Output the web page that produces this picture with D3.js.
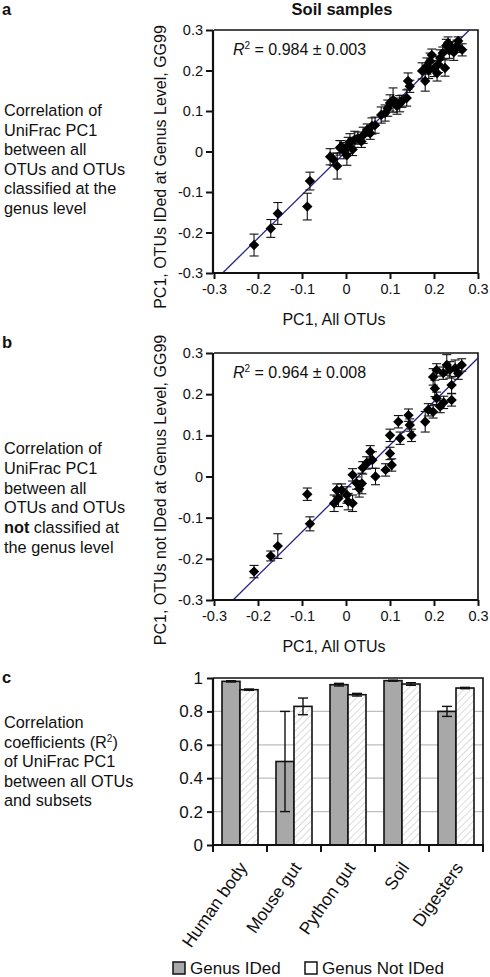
<!DOCTYPE html>
<html><head><meta charset="utf-8">
<script src="https://cdn.jsdelivr.net/npm/d3@7/dist/d3.min.js"></script>
<style>
html,body{margin:0;padding:0;background:#fff;}
text{font-family:"Liberation Sans",Arial,sans-serif;fill:#111;}
</style></head>
<body><svg id="c" width="490" height="977"></svg>
<script>
// ---------- data ----------
const scatterTicks = [-0.3,-0.2,-0.1,0,0.1,0.2,0.3];
const barTicks = [0,0.2,0.4,0.6,0.8,1];

// panel a: PC1 all OTUs (x), PC1 OTUs IDed at genus level (y), error
const aX = [-0.209,-0.171,-0.155,-0.082,-0.088,-0.020,-0.029,-0.011,0.002,0.009,-0.036,-0.014,-0.005,0.005,0.015,0.020,0.027,0.035,0.039,0.048,0.055,0.059,0.066,0.080,0.089,0.095,0.100,0.107,0.116,0.122,0.127,0.138,0.141,0.145,0.173,0.180,0.184,0.191,0.195,0.200,0.207,0.214,0.220,0.225,0.232,0.241,0.252,0.255,0.264,0.245,0.235,0.228,0.210,0.188];
const aY = [-0.231,-0.190,-0.153,-0.073,-0.136,-0.036,-0.019,0.012,-0.009,0.024,-0.013,0.009,0.002,0.015,0.005,0.030,0.033,0.025,0.040,0.053,0.045,0.063,0.065,0.090,0.095,0.107,0.120,0.127,0.112,0.118,0.124,0.132,0.174,0.161,0.199,0.174,0.211,0.223,0.238,0.205,0.194,0.231,0.243,0.206,0.268,0.256,0.260,0.273,0.251,0.245,0.250,0.262,0.215,0.200];
const aErr = [0.027,0.022,0.027,0.022,0.033,0.032,0.015,0.015,0.025,0.020,0.020,0.018,0.020,0.020,0.015,0.020,0.015,0.015,0.020,0.015,0.015,0.020,0.020,0.020,0.020,0.020,0.020,0.030,0.020,0.020,0.015,0.020,0.020,0.015,0.020,0.025,0.020,0.020,0.015,0.020,0.020,0.020,0.015,0.020,0.015,0.015,0.015,0.010,0.015,0.020,0.020,0.015,0.020,0.020];

// panel b: PC1 all OTUs (x), PC1 OTUs not IDed at genus level (y), error
const bX = [-0.209,-0.171,-0.155,-0.082,-0.088,-0.027,-0.017,-0.021,-0.010,0.002,0.005,0.015,0.015,0.024,0.036,0.038,0.047,0.055,0.067,0.090,0.104,0.100,0.100,0.123,0.119,0.142,0.149,0.145,0.180,0.187,0.198,0.214,0.206,0.222,0.240,0.202,0.198,0.206,0.229,0.236,0.248,0.255,0.263,0.221,0.240,0.060,0.030];
const bY = [-0.231,-0.193,-0.169,-0.115,-0.043,-0.065,-0.053,-0.033,-0.033,-0.045,-0.061,-0.065,0.004,-0.016,-0.017,0.021,0.033,0.060,0.000,0.016,0.028,0.056,0.100,0.093,0.133,0.149,0.100,0.125,0.133,0.162,0.157,0.170,0.190,0.180,0.186,0.214,0.242,0.259,0.271,0.259,0.263,0.251,0.271,0.251,0.222,0.040,-0.030];
const bErr = [0.015,0.012,0.030,0.017,0.015,0.020,0.020,0.015,0.015,0.020,0.020,0.020,0.015,0.015,0.025,0.015,0.015,0.015,0.020,0.015,0.015,0.015,0.015,0.015,0.015,0.015,0.015,0.015,0.025,0.015,0.015,0.015,0.015,0.015,0.015,0.020,0.020,0.015,0.025,0.020,0.020,0.015,0.015,0.015,0.020,0.020,0.020];

const fitA = [1.07, 0.0];     // slope, intercept
const fitB = [1.056, -0.029];

// panel c
const categories = ["Human body","Mouse gut","Python gut","Soil","Digesters"];
const seriesNames = ["Genus IDed","Genus Not IDed"];
const genusIDed = [0.98,0.50,0.96,0.984,0.80];
const genusIDedErr = [0.004,0.30,0.008,0.003,0.03];
const genusNotIDed = [0.93,0.83,0.90,0.964,0.94];
const genusNotIDedErr = [0.004,0.05,0.008,0.008,0.004];

// ---------- drawing ----------
const svg = d3.select("#c");
const defs = svg.append("defs");
const pat = defs.append("pattern").attr("id","hatch").attr("patternUnits","userSpaceOnUse")
  .attr("width",5).attr("height",5).attr("patternTransform","rotate(45)");
pat.append("rect").attr("width",5).attr("height",5).attr("fill","#fff");
pat.append("line").attr("x1",0).attr("y1",0).attr("x2",0).attr("y2",5)
  .attr("stroke","#c4c4c4").attr("stroke-width",1.2);

const FONT = '"Liberation Sans",Arial,sans-serif';
const fmt = d => d === 0 ? "0" : (d < 0 ? "-" : "") + d3.format(".1f")(Math.abs(d));
const fmtBar = d => d === 0 ? "0" : (d === 1 ? "1" : d3.format(".1f")(d));

// title
svg.append("text").attr("x",342).attr("y",15).attr("text-anchor","middle")
  .attr("font-size",16.5).attr("font-weight","bold").text("Soil samples");

function panelLetter(t, y){
  svg.append("text").attr("x",2).attr("y",y).attr("font-size",16.5).attr("font-weight","bold").text(t);
}
function descLines(lines, y0, step){
  const t = svg.append("g");
  lines.forEach((ln,i)=>{
    const tx = t.append("text").attr("x",4).attr("y",y0+i*step).attr("font-size",16.3);
    ln.forEach(seg=>{
      const ts = tx.append("tspan").text(seg.t);
      if(seg.b) ts.attr("font-weight","bold");
      if(seg.sup) ts.attr("font-size",10).attr("dy",-6);
      if(seg.after) ts.attr("dy",6);
    });
  });
}

function scatter(yTop, yBot, xs, ys, errs, fit, r2, r2err, ytitle, titleCenter){
  const x = d3.scaleLinear().domain([-0.3,0.3]).range([214,478]);
  const y = d3.scaleLinear().domain([-0.3,0.3]).range([yBot,yTop]);
  const g = svg.append("g");
  g.append("path").attr("d",`M${x(-0.3)},${y(0.3)}H${x(0.3)}V${y(-0.3)}`)
    .attr("fill","none").attr("stroke","#111").attr("stroke-width",1.6);
  const [m,b] = fit;
  let x0 = -0.3, y0 = m*x0+b; if(y0 < -0.3){ y0=-0.3; x0=(y0-b)/m; }
  let x1 = 0.3, y1 = m*x1+b; if(y1 > 0.3){ y1=0.3; x1=(y1-b)/m; }
  g.append("line").attr("x1",x(x0)).attr("y1",y(y0)).attr("x2",x(x1)).attr("y2",y(y1))
    .attr("stroke","#22228a").attr("stroke-width",1.3);
  const pts = xs.map((v,i)=>({x:v,y:ys[i],e:errs[i]}));
  const eb = g.append("g").attr("stroke","#111").attr("stroke-width",1.1);
  pts.forEach(p=>{
    const cx=x(p.x), t=y(p.y+p.e), bt=y(p.y-p.e);
    eb.append("line").attr("x1",cx).attr("x2",cx).attr("y1",t).attr("y2",bt);
    eb.append("line").attr("x1",cx-4.5).attr("x2",cx+4.5).attr("y1",t).attr("y2",t);
    eb.append("line").attr("x1",cx-4.5).attr("x2",cx+4.5).attr("y1",bt).attr("y2",bt);
  });
  const sym = d3.symbol(d3.symbolSquare, 54);
  g.append("g").selectAll("path").data(pts).join("path")
    .attr("d",sym).attr("fill","#000")
    .attr("transform",p=>`translate(${x(p.x)},${y(p.y)}) rotate(45)`);
  const ax = g.append("g").attr("transform",`translate(0,${yBot})`)
    .call(d3.axisBottom(x).tickValues(scatterTicks).tickFormat(fmt).tickSize(6).tickSizeOuter(0).tickPadding(5));
  const ay = g.append("g").attr("transform",`translate(213,0)`)
    .call(d3.axisLeft(y).tickValues(scatterTicks).tickFormat(fmt).tickSize(7).tickSizeOuter(0).tickPadding(3));
  [ax,ay].forEach(a=>{
    a.select(".domain").attr("stroke","#111").attr("stroke-width",2.2);
    a.selectAll(".tick line").attr("stroke","#111").attr("stroke-width",2);
    a.selectAll(".tick text").attr("font-family",FONT).attr("font-size",14.5).attr("fill","#111");
  });
  ax.select(".domain").attr("d",`M213,0H${x(0.3)}`);
  ay.select(".domain").attr("d",`M0,${y(0.3)}V${yBot+1}`);
  const rt = g.append("text").attr("x",233).attr("y",yTop+25).attr("font-size",16);
  rt.append("tspan").attr("font-style","italic").text("R");
  rt.append("tspan").attr("font-size",10).attr("dy",-6).text("2");
  rt.append("tspan").attr("dy",6).text(` = ${r2} ± ${r2err}`);
  g.append("text").attr("x",334).attr("y",yBot+52).attr("text-anchor","middle")
    .attr("font-size",16).text("PC1, All OTUs");
  g.append("text").attr("transform",`translate(166,${titleCenter}) rotate(-90)`)
    .attr("text-anchor","middle").attr("font-size",16).text(ytitle);
}

panelLetter("a",15);
descLines([[{t:"Correlation of"}],[{t:"UniFrac PC1"}],[{t:"between all"}],[{t:"OTUs and OTUs"}],[{t:"classified at the"}],[{t:"genus level"}]],116,19.6);
scatter(30,273,aX,aY,aErr,fitA,"0.984","0.003","PC1, OTUs IDed at Genus Level, GG99",167);

panelLetter("b",348);
descLines([[{t:"Correlation of"}],[{t:"UniFrac PC1"}],[{t:"between all"}],[{t:"OTUs and OTUs"}],[{t:"not",b:true},{t:" classified at"}],[{t:"the genus level"}]],454,19.8);
scatter(353,600,bX,bY,bErr,fitB,"0.964","0.008","PC1, OTUs not IDed at Genus Level, GG99",490);

// panel c
panelLetter("c",683);
descLines([[{t:"Correlation"}],[{t:"coefficients (R"},{t:"2",sup:true},{t:")",after:true}],[{t:"of UniFrac PC1"}],[{t:"between all OTUs"}],[{t:"and subsets"}]],728,19.5);

const xb = d3.scaleBand().domain(categories).range([213,483]);
const xs = d3.scaleBand().domain(seriesNames).range([0,xb.bandwidth()]).paddingOuter(0.5);
const yb = d3.scaleLinear().domain([0,1]).range([845,678]);
const gc = svg.append("g");
gc.append("g").selectAll("line").data(barTicks.filter(d=>d>0 && d<1)).join("line")
  .attr("x1",213).attr("x2",483).attr("y1",d=>yb(d)).attr("y2",d=>yb(d))
  .attr("stroke","#bdbdbd").attr("stroke-width",1.2);
gc.append("path").attr("d",`M213,${yb(1)}H483V${yb(0)}`).attr("fill","none").attr("stroke","#111").attr("stroke-width",1.6);
const barData = [];
categories.forEach((c,i)=>{
  barData.push({c,s:seriesNames[0],v:genusIDed[i],e:genusIDedErr[i]});
  barData.push({c,s:seriesNames[1],v:genusNotIDed[i],e:genusNotIDedErr[i]});
});
gc.append("g").selectAll("rect").data(barData).join("rect")
  .attr("x",d=>xb(d.c)+xs(d.s)).attr("width",xs.bandwidth())
  .attr("y",d=>yb(d.v)).attr("height",d=>yb(0)-yb(d.v))
  .attr("fill",d=>d.s===seriesNames[0]?"#a8a8a8":"url(#hatch)")
  .attr("stroke","#111").attr("stroke-width",1.6);
const ebc = gc.append("g").attr("stroke","#111").attr("stroke-width",1.4);
barData.forEach(d=>{
  const cx = xb(d.c)+xs(d.s)+xs.bandwidth()/2, t=yb(d.v+d.e), b=yb(d.v-d.e);
  ebc.append("line").attr("x1",cx).attr("x2",cx).attr("y1",t).attr("y2",b);
  ebc.append("line").attr("x1",cx-5).attr("x2",cx+5).attr("y1",t).attr("y2",t);
  ebc.append("line").attr("x1",cx-5).attr("x2",cx+5).attr("y1",b).attr("y2",b);
});
const ayc = gc.append("g").attr("transform","translate(213,0)")
  .call(d3.axisLeft(yb).tickValues(barTicks).tickFormat(fmtBar).tickSize(6).tickSizeOuter(0).tickPadding(4));
ayc.select(".domain").attr("stroke","#111").attr("stroke-width",2.2).attr("d",`M0,${yb(1)}V${yb(0)+1}`);
ayc.selectAll(".tick line").attr("stroke","#111").attr("stroke-width",2);
ayc.selectAll(".tick text").attr("font-family",FONT).attr("font-size",17).attr("fill","#111");
gc.append("line").attr("x1",212).attr("x2",484).attr("y1",yb(0)).attr("y2",yb(0)).attr("stroke","#111").attr("stroke-width",2.2);
const edges = categories.map(c=>xb(c)).concat([xb.range()[1]]);
gc.append("g").selectAll("line").data(edges).join("line")
  .attr("x1",d=>d).attr("x2",d=>d).attr("y1",yb(0)).attr("y2",yb(0)+7)
  .attr("stroke","#111").attr("stroke-width",2);
gc.append("g").selectAll("text").data(categories).join("text")
  .attr("transform",c=>`translate(${xb(c)+xb.bandwidth()/2+3},${yb(0)+19}) rotate(-55)`)
  .attr("text-anchor","end").attr("dy","0.35em").attr("font-size",17.5).text(c=>c);
const lg = gc.append("g").attr("transform","translate(173,962)");
seriesNames.forEach((s,i)=>{
  const ox = i===0?0:132;
  lg.append("rect").attr("x",ox).attr("y",0).attr("width",12).attr("height",12)
    .attr("fill",i===0?"#a8a8a8":"#fff").attr("stroke","#111").attr("stroke-width",1.5);
  lg.append("text").attr("x",ox+17).attr("y",12).attr("font-size",17).text(s);
});
</script></body></html>
